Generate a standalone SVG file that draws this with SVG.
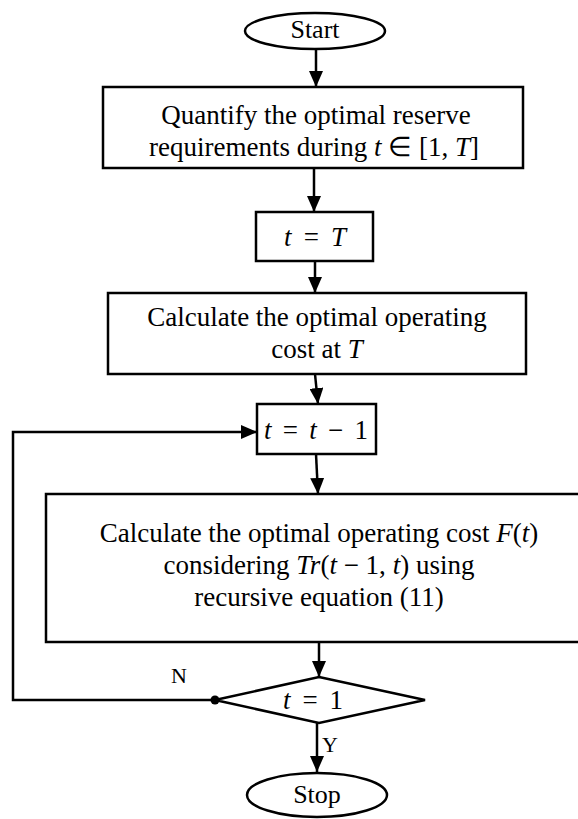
<svg xmlns="http://www.w3.org/2000/svg" width="578" height="819" viewBox="0 0 578 819">
<style>
.shape{fill:#fff;stroke:#000;stroke-width:2.5}
.conn{fill:none;stroke:#000;stroke-width:2.5}
.txt{font-family:"Liberation Serif","Times New Roman",serif;font-size:27px;fill:#000;text-anchor:middle}
.term{font-size:26px}
.lbl{font-family:"Liberation Serif","Times New Roman",serif;font-size:22px;fill:#000}
.m{font-style:italic}
</style>
<defs>
<marker id="ah" viewBox="0 0 16 14" refX="16" refY="7" markerWidth="16" markerHeight="14" markerUnits="userSpaceOnUse" orient="auto">
<path d="M0,0 L16,7 L0,14 z" fill="#000"/>
</marker>
</defs>
<rect width="578" height="819" fill="#fff"/>
<g id="connectors">
<path class="conn" d="M316,49 L316,87" marker-end="url(#ah)"/>
<path class="conn" d="M314,168 L314,212" marker-end="url(#ah)"/>
<path class="conn" d="M315,261 L315,293" marker-end="url(#ah)"/>
<path class="conn" d="M315,374 L318,404" marker-end="url(#ah)"/>
<path class="conn" d="M316,454 L318,494" marker-end="url(#ah)"/>
<path class="conn" d="M319,642 L319,677" marker-end="url(#ah)"/>
<path class="conn" d="M317,723 L317,772" marker-end="url(#ah)"/>
<path class="conn" d="M215,700 L13,700 L13,432 L257,432" marker-end="url(#ah)"/>
<circle cx="215" cy="700" r="4.5" fill="#000"/>
</g>
<g id="start">
<ellipse class="shape" cx="315" cy="31" rx="70" ry="18"/>
<text class="txt term" x="315" y="38">Start</text>
</g>
<g id="quantify">
<rect class="shape" x="103" y="87" width="420" height="81"/>
<text class="txt" x="316" y="124">Quantify the optimal reserve</text>
<text class="txt" x="314" y="156">requirements during <tspan class="m">t</tspan> ∈ [1, <tspan class="m">T</tspan>]</text>
</g>
<g id="init">
<rect class="shape" x="256" y="212" width="117" height="49"/>
<text class="txt" x="315" y="246" textLength="62" lengthAdjust="spacing"><tspan class="m">t</tspan> = <tspan class="m">T</tspan></text>
</g>
<g id="costT">
<rect class="shape" x="108" y="293" width="418" height="81"/>
<text class="txt" x="317" y="326">Calculate the optimal operating</text>
<text class="txt" x="317" y="358">cost at <tspan class="m">T</tspan></text>
</g>
<g id="decrement">
<rect class="shape" x="257" y="404" width="119" height="50"/>
<text class="txt" x="316" y="439" textLength="104" lengthAdjust="spacing"><tspan class="m">t</tspan> = <tspan class="m">t</tspan> − 1</text>
</g>
<g id="recursive">
<rect class="shape" x="46" y="494" width="545" height="148"/>
<text class="txt" x="319" y="542">Calculate the optimal operating cost <tspan class="m">F</tspan>(<tspan class="m">t</tspan>)</text>
<text class="txt" x="319" y="574">considering <tspan class="m">Tr</tspan>(<tspan class="m">t</tspan> − 1, <tspan class="m">t</tspan>) using</text>
<text class="txt" x="319" y="606">recursive equation (11)</text>
</g>
<g id="decision">
<polygon class="shape" points="319,677 425,700 319,723 215,700"/>
<text class="txt" x="313" y="709" textLength="60" lengthAdjust="spacing"><tspan class="m">t</tspan> = 1</text>
</g>
<g id="labels">
<text class="lbl" x="171" y="683">N</text>
<text class="lbl" x="322" y="752">Y</text>
</g>
<g id="stop">
<ellipse class="shape" cx="317" cy="795" rx="70" ry="22"/>
<text class="txt term" x="317" y="803">Stop</text>
</g>
</svg>
